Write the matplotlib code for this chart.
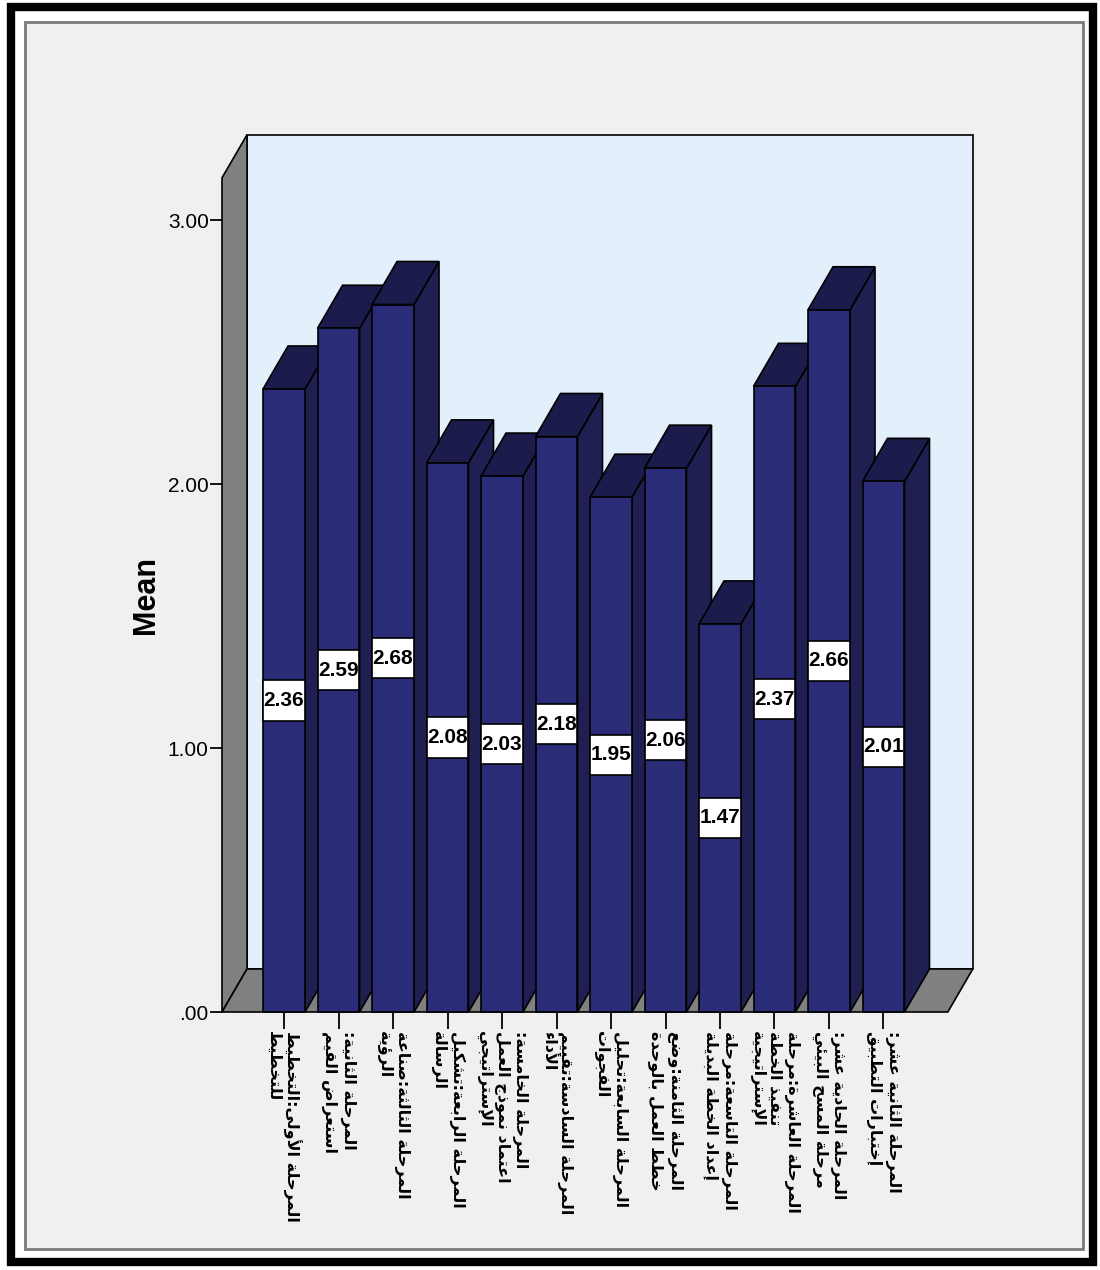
import matplotlib
matplotlib.use("Agg")
import matplotlib.pyplot as plt
from matplotlib.patches import Rectangle, Polygon

# ---- data ----
stages = [
    "المرحلة الأولى:التخطيط\nللتخطيط",
    "المرحلة الثانية:\nاستعراض القيم",
    "المرحلة الثالثة:صناعة\nالرؤية",
    "المرحلة الرابعة:تشكيل\nالرسالة",
    "المرحلة الخامسة:\nاعتماد نموذج العمل\nالإستراتيجي",
    "المرحلة السادسة:تقييم\nالأداء",
    "المرحلة السابعة:تحليل\nالفجوات",
    "المرحلة الثامنة:وضع\nخطط العمل بالوحدة",
    "المرحلة التاسعة:مرحلة\nإعداد الخطة البديلة",
    "المرحلة العاشرة:مرحلة\nتنفيذ الخطة\nالإستراتيجية",
    "المرحلة الحادية عشر:\nمرحلة المسح البيئي",
    "المرحلة الثانية عشر:\nإختبارات التطبيق",
]
means = [2.36, 2.59, 2.68, 2.08, 2.03, 2.18, 1.95, 2.06, 1.47, 2.37, 2.66, 2.01]
ytick_vals = [0, 1, 2, 3]
ytick_labels = [".00", "1.00", "2.00", "3.00"]


# matplotlib has no Arabic shaping, so pick presentation forms by hand
# (base code point, number of forms: 4 = joins both sides, 2 = right only)
_FORMS = {
    "ء": (0xFE80, 1), "آ": (0xFE81, 2), "أ": (0xFE83, 2), "ؤ": (0xFE85, 2),
    "إ": (0xFE87, 2), "ئ": (0xFE89, 4), "ا": (0xFE8D, 2), "ب": (0xFE8F, 4),
    "ة": (0xFE93, 2), "ت": (0xFE95, 4), "ث": (0xFE99, 4), "ج": (0xFE9D, 4),
    "ح": (0xFEA1, 4), "خ": (0xFEA5, 4), "د": (0xFEA9, 2), "ذ": (0xFEAB, 2),
    "ر": (0xFEAD, 2), "ز": (0xFEAF, 2), "س": (0xFEB1, 4), "ش": (0xFEB5, 4),
    "ص": (0xFEB9, 4), "ض": (0xFEBD, 4), "ط": (0xFEC1, 4), "ظ": (0xFEC5, 4),
    "ع": (0xFEC9, 4), "غ": (0xFECD, 4), "ف": (0xFED1, 4), "ق": (0xFED5, 4),
    "ك": (0xFED9, 4), "ل": (0xFEDD, 4), "م": (0xFEE1, 4), "ن": (0xFEE5, 4),
    "ه": (0xFEE9, 4), "و": (0xFEED, 2), "ى": (0xFEEF, 2), "ي": (0xFEF1, 4),
}
_LAMALEF = {"آ": 0xFEF5, "أ": 0xFEF7, "إ": 0xFEF9, "ا": 0xFEFB}


def shape_line(s):
    items = []
    i = 0
    while i < len(s):
        if s[i] == "ل" and i + 1 < len(s) and s[i + 1] in _LAMALEF:
            items.append((_LAMALEF[s[i + 1]], 2))
            i += 2
        elif s[i] in _FORMS:
            items.append(_FORMS[s[i]])
            i += 1
        else:
            items.append((s[i], 0))
            i += 1
    out = []
    for j, (base, n) in enumerate(items):
        if n == 0:
            out.append(base)
            continue
        prev_join = j > 0 and items[j - 1][1] == 4
        next_join = n == 4 and j + 1 < len(items) and items[j + 1][1] >= 2
        if n == 1:
            off = 0
        elif prev_join and next_join:
            off = 3
        elif prev_join:
            off = 1
        elif next_join:
            off = 2
        else:
            off = 0
        out.append(chr(base + off))
    return "".join(reversed(out))


def shape(text):
    return "\n".join(shape_line(t) for t in text.split("\n"))


# ---- figure ----
W, H = 1100, 1270
fig = plt.figure(figsize=(W / 100, H / 100), dpi=100, facecolor="white")


def fig_rect(x0, y0, x1, y1, **kw):
    # pixel box (top-left origin) -> figure fraction rectangle
    return Rectangle((x0 / W, 1 - y1 / H), (x1 - x0) / W, (y1 - y0) / H,
                     transform=fig.transFigure, zorder=-10, **kw)


fig.add_artist(fig_rect(25, 22, 1083, 1249, facecolor="#f0f0f0",
                        edgecolor="#7a7a7a", linewidth=2))
fig.add_artist(fig_rect(11, 7, 1093, 1262, facecolor="none",
                        edgecolor="black", linewidth=6))

ax = fig.add_axes([222 / W, 1 - 1012 / H, 750 / W, 878 / H])
ax.set_facecolor("none")
ax.set_xlim(-1.138, 12.624)
ax.set_ylim(0, 3.326)
for sp in ax.spines.values():
    sp.set_visible(False)

depth_x, depth_y = 0.459, 0.163
wall_top = 3.16
x_left, x_right = -1.138, 12.18
bar_w = 0.77

front_col = "#2b2c78"
top_col = "#1c1c4c"
side_col = "#1f1f52"
wall_col = "#808080"
edge = dict(edgecolor="black", linewidth=1.2, clip_on=False)

# back wall, left wall and floor
ax.add_patch(Rectangle((x_left + depth_x, depth_y), x_right - x_left, wall_top,
                       facecolor="#e3effa", **edge))
ax.add_patch(Polygon([(x_left, 0), (x_left + depth_x, depth_y),
                      (x_left + depth_x, wall_top + depth_y), (x_left, wall_top)],
                     facecolor=wall_col, **edge))
ax.add_patch(Polygon([(x_left, 0), (x_right, 0), (x_right + depth_x, depth_y),
                      (x_left + depth_x, depth_y)], facecolor=wall_col, **edge))

# 3-D bars, left to right so each one overlaps the previous
for i, v in enumerate(means):
    l, r = i - bar_w / 2, i + bar_w / 2
    ax.add_patch(Polygon([(r, 0), (r + depth_x, depth_y), (r + depth_x, v + depth_y), (r, v)],
                         facecolor=side_col, **edge))
    ax.add_patch(Polygon([(l, v), (r, v), (r + depth_x, v + depth_y), (l + depth_x, v + depth_y)],
                         facecolor=top_col, **edge))
    ax.add_patch(Rectangle((l, 0), bar_w, v, facecolor=front_col, **edge))

# value boxes in the middle of each bar
box_h = 0.152
for i, v in enumerate(means):
    ax.add_patch(Rectangle((i - bar_w / 2, v / 2 - box_h / 2), bar_w, box_h,
                           facecolor="white", edgecolor="black", linewidth=1.2,
                           zorder=5, clip_on=False))
    ax.text(i, v / 2, "%.2f" % v, ha="center", va="center", zorder=6,
            fontsize=15, fontweight="bold", family=["Liberation Sans", "DejaVu Sans"])

ax.set_yticks(ytick_vals)
ax.set_yticklabels(ytick_labels, family=["Liberation Sans", "DejaVu Sans"])
ax.tick_params(axis="y", length=8.6, width=1.3, pad=1, labelsize=15, colors="black")

ax.set_xticks(range(len(means)))
ax.set_xticklabels([shape(s) for s in stages], rotation=270, ha="center", va="top",
                   multialignment="left", fontsize=11.5, fontweight="bold",
                   linespacing=1.2, family="DejaVu Sans")
ax.tick_params(axis="x", length=12, width=1.3, pad=2)

ax.set_ylabel("Mean", fontsize=22, fontweight="bold", family="Liberation Sans")
ax.yaxis.set_label_coords(-0.082, 0.475)

fig.savefig("out.png", dpi=100, facecolor="white")
